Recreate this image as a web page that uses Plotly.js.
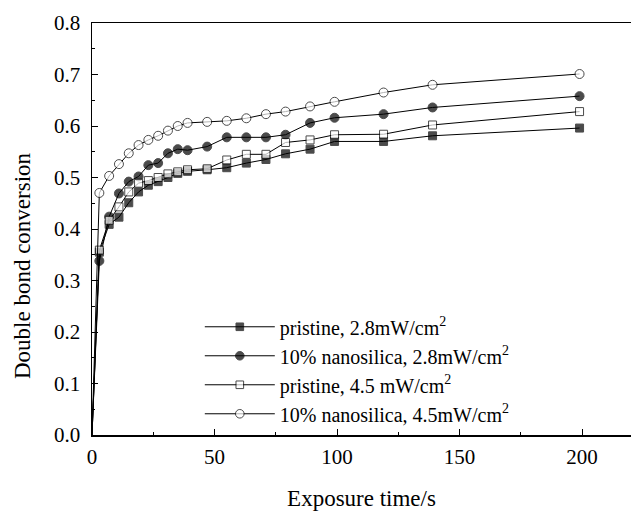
<!DOCTYPE html>
<html>
<head>
<meta charset="utf-8">
<script src="https://cdn.plot.ly/plotly-3.0.1.min.js"></script>
<style>html,body{margin:0;padding:0;background:#fff;}#chart{width:634px;height:512px;}</style>
</head>
<body>
<div id="chart"></div>
<script>
const time = [0, 3, 7, 11, 15, 19, 23, 27, 31, 35, 39, 47, 55, 63, 71, 79, 89, 99, 119, 139, 199];
const pristine28 = [0, 0.355, 0.409, 0.423, 0.451, 0.472, 0.485, 0.492, 0.500, 0.508, 0.512, 0.515, 0.519, 0.528, 0.535, 0.546, 0.555, 0.570, 0.570, 0.581, 0.596];
const nano28 = [0, 0.338, 0.424, 0.469, 0.492, 0.502, 0.524, 0.528, 0.547, 0.555, 0.553, 0.560, 0.578, 0.578, 0.578, 0.583, 0.606, 0.616, 0.623, 0.636, 0.658];
const pristine45 = [0, 0.359, 0.417, 0.443, 0.472, 0.489, 0.494, 0.500, 0.507, 0.511, 0.515, 0.517, 0.534, 0.545, 0.545, 0.568, 0.573, 0.583, 0.584, 0.602, 0.628];
const nano45 = [0, 0.470, 0.503, 0.526, 0.547, 0.563, 0.573, 0.581, 0.591, 0.600, 0.606, 0.608, 0.610, 0.615, 0.623, 0.628, 0.638, 0.647, 0.665, 0.680, 0.701];
const seriesNames = ["pristine, 2.8mW/cm<sup>2</sup>", "10% nanosilica, 2.8mW/cm<sup>2</sup>", "pristine, 4.5 mW/cm<sup>2</sup>", "10% nanosilica, 4.5mW/cm<sup>2</sup>"];
const xTicks = [0, 50, 100, 150, 200];
const yTicks = [0.0, 0.1, 0.2, 0.3, 0.4, 0.5, 0.6, 0.7, 0.8];
const xTitle = "Exposure time/s";
const yTitle = "Double bond conversion";

const series = [pristine28, nano28, pristine45, nano45];
const symbols = ["square", "circle", "square", "circle"];
const fills = ["#000", "#000", "#fff", "#fff"];
const sizes = [8, 9, 8, 9];
const traces = series.map((s, k) => ({
  x: time, y: s, name: seriesNames[k], type: "scatter", mode: "lines+markers",
  line: {color: "#000", width: 1},
  marker: {symbol: symbols[k], size: time.map((t, i) => i === 0 ? 0 : sizes[k]), color: fills[k],
           line: {color: "#000", width: 1}},
  cliponaxis: false
}));

const serif = "Liberation Serif, Times New Roman, serif";
const layout = {
  width: 634, height: 512,
  margin: {l: 92, r: 3, t: 23, b: 77},
  paper_bgcolor: "#fff", plot_bgcolor: "#fff",
  font: {family: serif, color: "#000", size: 20},
  showlegend: true,
  legend: {x: 0.2, y: 0.31, xanchor: "left", yanchor: "top", bgcolor: "rgba(0,0,0,0)",
           font: {family: serif, size: 20, color: "#000"}, itemwidth: 70},
  xaxis: {range: [0, 220], tickvals: xTicks, ticktext: xTicks.map(String),
          ticks: "inside", ticklen: 6, tickwidth: 1, tickcolor: "#000",
          minor: {dtick: 25, ticks: "inside", ticklen: 3, tickcolor: "#000"},
          showline: true, linecolor: "#000", linewidth: 1.5, mirror: true,
          showgrid: false, zeroline: false, ticklabelstandoff: 2,
          tickfont: {family: serif, size: 21},
          title: {text: xTitle, font: {family: serif, size: 23}, standoff: 22}},
  yaxis: {range: [0, 0.8], tickvals: yTicks, ticktext: yTicks.map(v => v.toFixed(1)),
          ticks: "inside", ticklen: 6, tickwidth: 1, tickcolor: "#000",
          minor: {dtick: 0.05, ticks: "inside", ticklen: 3, tickcolor: "#000"},
          showline: true, linecolor: "#000", linewidth: 1.5,
          showgrid: false, zeroline: false, ticklabelstandoff: 6,
          tickfont: {family: serif, size: 21}},
  annotations: [{text: yTitle, textangle: -90, xref: "paper", yref: "paper",
                 x: 0, y: 0.41, xanchor: "center", yanchor: "middle", xshift: -70,
                 showarrow: false, font: {family: serif, size: 23, color: "#000"}}]
};
Plotly.newPlot("chart", traces, layout, {displayModeBar: false, staticPlot: true});
</script>
</body>
</html>
